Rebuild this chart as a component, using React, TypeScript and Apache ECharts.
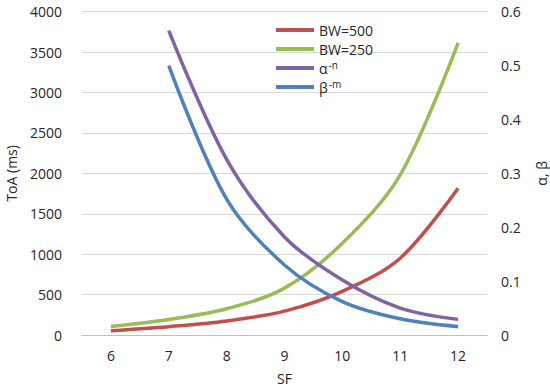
import React, { useEffect, useRef } from "react";
import * as echarts from "echarts";

const categories = ["6", "7", "8", "9", "10", "11", "12"];
const bw500 = [53, 103, 173, 295, 540, 950, 1815];
const bw250 = [105, 192, 325, 580, 1135, 1980, 3615];
const alphaN = [null, 0.565, 0.326, 0.182, 0.102, 0.05, 0.029];
const betaM = [null, 0.5, 0.252, 0.13, 0.062, 0.03, 0.0155];
const leftTicks = { min: 0, max: 4000, interval: 500 };
const rightTicks = { min: 0, max: 0.6, interval: 0.1 };

const FONT = "Open Sans";
const TXT = "#262626";

const legendRich: Record<string, string> = {
  "α^-n": "{b|α}{s|-n}",
  "β^-m": "{b|β}{s|-m}",
};

export default function App() {
  const ref = useRef<HTMLDivElement>(null);
  useEffect(() => {
    if (!ref.current) return;
    const chart = echarts.init(ref.current, undefined, { renderer: "svg" });
    const mk = (name: string, data: any[], color: string, yAxisIndex: number) => ({
      name,
      type: "line",
      data,
      yAxisIndex,
      smooth: 0.33,
      showSymbol: false,
      symbol: "none",
      lineStyle: { color, width: 3.5 },
      itemStyle: { color },
    });
    chart.setOption({
      animation: false,
      textStyle: { fontFamily: FONT },
      grid: { left: 82, right: 63, top: 11.7, bottom: 53, outerBoundsMode: "none", containLabel: false },
      legend: {
        orient: "vertical",
        left: 271,
        top: 17,
        icon: "rect",
        itemWidth: 38,
        itemHeight: 4,
        itemGap: 3,
        formatter: (n: string) => legendRich[n] ?? n,
        textStyle: {
          fontFamily: FONT,
          fontSize: 14,
          color: TXT,
          lineHeight: 16,
          rich: {
            b: { fontFamily: FONT, fontSize: 14, color: TXT, lineHeight: 16 },
            s: { fontFamily: FONT, fontSize: 10, color: TXT, verticalAlign: "top", padding: [0, 0, 6, 1], lineHeight: 16 },
          },
        },
        data: ["BW=500", "BW=250", "α^-n", "β^-m"],
      },
      xAxis: {
        type: "category",
        data: categories,
        boundaryGap: true,
        name: "SF",
        nameLocation: "middle",
        nameGap: 36,
        nameTextStyle: { fontFamily: FONT, fontSize: 14, color: TXT, lineHeight: 15 },
        axisTick: { show: false },
        axisLine: { lineStyle: { color: "#BFBFBF", width: 1 } },
        axisLabel: { margin: 13, fontFamily: FONT, fontSize: 14, color: TXT },
      },
      yAxis: [
        {
          type: "value",
          ...leftTicks,
          name: "ToA (ms)",
          nameLocation: "middle",
          nameGap: 64,
          nameTextStyle: { fontFamily: FONT, fontSize: 14, color: TXT },
          axisLine: { show: false },
          axisTick: { show: false },
          splitLine: { lineStyle: { color: "#D9D9D9", width: 1 } },
          axisLabel: {
            margin: 20,
            fontFamily: FONT,
            fontSize: 14,
            color: TXT,
            formatter: (v: number) => String(v),
          },
        },
        {
          type: "value",
          ...rightTicks,
          position: "right",
          name: "α, β",
          nameLocation: "middle",
          nameGap: 47,
          nameTextStyle: { fontFamily: FONT, fontSize: 14, color: TXT },
          axisLine: { show: false },
          axisTick: { show: false },
          splitLine: { show: false },
          axisLabel: { margin: 14, fontFamily: FONT, fontSize: 14, color: TXT },
        },
      ],
      series: [
        mk("BW=500", bw500, "#C0504D", 0),
        mk("BW=250", bw250, "#9BBB59", 0),
        mk("α^-n", alphaN, "#8064A2", 1),
        mk("β^-m", betaM, "#4F81BD", 1),
      ],
    });
    return () => chart.dispose();
  }, []);
  return (
    <div
      ref={ref}
      style={{ position: "fixed", left: 0, top: 0, width: 550, height: 388, background: "#fff" }}
    />
  );
}
